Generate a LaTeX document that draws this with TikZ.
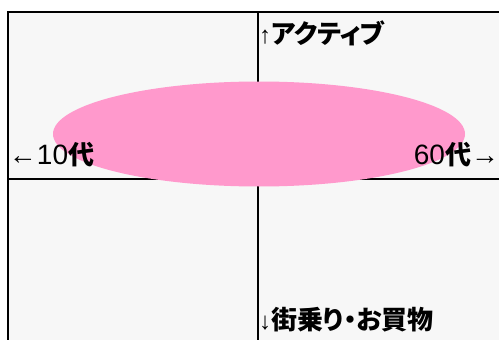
\documentclass[tikz,border=0pt]{standalone}
\usepackage{fontspec}
\usetikzlibrary{shapes.geometric}
\setmainfont{Liberation Sans}
\newfontfamily\jp[RawFeature=+palt]{Noto Sans CJK JP}
\definecolor{bgray}{HTML}{F7F7F7}
\definecolor{pinkfill}{HTML}{FF99CC}
\tikzset{
  axis/.style={line width=2.2pt, black},
  lbl/.style={inner sep=0pt, outer sep=0pt},
}
\newcommand{\jb}[1]{{\jp\bfseries\fontsize{26}{26}\selectfont #1}}
\newcommand{\lt}[1]{{\fontsize{28}{28}\selectfont #1}}
\begin{document}
\begin{tikzpicture}[x=1pt,y=-1pt]
\useasboundingbox (0,0) rectangle (499,340);
\clip (0,0) rectangle (499,340);
\draw[axis, fill=bgray] (8,12) rectangle (530,370);
\coordinate (top) at (258,12);
\coordinate (bot) at (258,340);
\coordinate (lft) at (8,179);
\coordinate (rgt) at (499,179);
\draw[axis] (top) -- (bot);
\draw[axis] (lft) -- (rgt);
\node[ellipse, fill=pinkfill, minimum width=412pt, minimum height=105pt, inner sep=0pt] (blob) at (259,134) {};
\node[lbl, anchor=west] (active) at (259,33) {{\fontsize{24}{24}\selectfont↑}\jb{アクティブ}};
\node[lbl, anchor=west] (young) at (9,155) {\lt{←10}\jb{代}};
\node[lbl, anchor=east] (old) at (499,155) {\lt{60}\jb{代}\lt{→}};
\node[lbl, anchor=west] (town) at (259,320) {{\fontsize{24}{24}\selectfont↓}\jb{街乗り・お買物}};
\end{tikzpicture}
\end{document}
